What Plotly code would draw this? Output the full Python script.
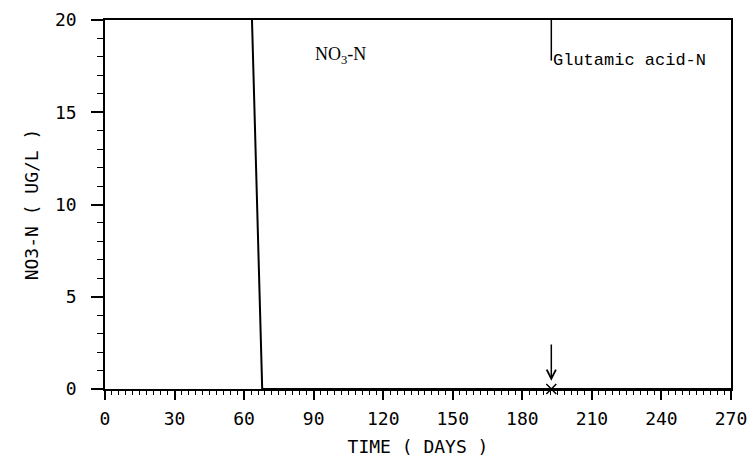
import plotly.graph_objects as go

# --- data ---
no3_days = [63.4, 67.8, 73.0, 270.0]
no3_vals = [20.0, 0.0, 0.0, 0.0]

glu_day = [192.5]
glu_val = [0.0]
glu_label_val = 17.8
arrow_tail_val = 2.5
arrow_head_val = 0.45

x_ticks = [0, 30, 60, 90, 120, 150, 180, 210, 240, 270]
y_ticks = [0, 5, 10, 15, 20]

tick_font = dict(family="DejaVu Sans Mono", size=18, color="black")

fig = go.Figure()
fig.add_trace(go.Scatter(x=no3_days, y=no3_vals, mode="lines",
                         line=dict(color="black", width=2), showlegend=False))
fig.add_trace(go.Scatter(x=glu_day, y=glu_val, mode="markers",
                         marker=dict(symbol="x-thin", size=10, line=dict(color="black", width=1.5)),
                         showlegend=False, cliponaxis=False))

# leader line from top to the label
fig.add_shape(type="line", xref="x", yref="y", x0=glu_day[0], x1=glu_day[0],
              y0=20, y1=glu_label_val, line=dict(color="black", width=1.5))
fig.add_annotation(x=glu_day[0], y=glu_label_val, xref="x", yref="y",
                   text="Glutamic acid-N", showarrow=False, xanchor="left", yanchor="middle",
                   font=dict(family="Liberation Mono", size=17, color="black"))
fig.add_annotation(x=101.5, y=18.1, xref="x", yref="y",
                   text="NO<sub>3</sub>-N", showarrow=False, xanchor="center", yanchor="middle",
                   font=dict(family="Liberation Serif", size=18, color="black"))
fig.add_annotation(x=glu_day[0], y=arrow_head_val, ax=glu_day[0], ay=arrow_tail_val,
                   xref="x", yref="y", axref="x", ayref="y", text="",
                   showarrow=True, arrowhead=5, arrowsize=1.2, arrowwidth=1.5, arrowcolor="black")

fig.update_xaxes(range=[0, 270], tickvals=x_ticks, ticktext=[str(v) for v in x_ticks],
                 showgrid=False, zeroline=False, showline=True, linecolor="black", linewidth=1.5,
                 mirror=True, ticks="outside", ticklen=9, tickwidth=1.5, tickcolor="black",
                 minor=dict(dtick=3, ticks="outside", ticklen=4, tickwidth=1.2, tickcolor="black"),
                 tickfont=tick_font, automargin=False, ticklabelstandoff=4,
                 title=dict(text="TIME ( DAYS )", font=tick_font, standoff=12))
fig.update_yaxes(range=[0, 20], tickvals=y_ticks, ticktext=[str(v) for v in y_ticks],
                 showgrid=False, zeroline=False, showline=True, linecolor="black", linewidth=1.5,
                 mirror=True, ticks="outside", ticklen=12, tickwidth=1.5, tickcolor="black",
                 minor=dict(dtick=1, ticks="outside", ticklen=6, tickwidth=1.2, tickcolor="black"),
                 tickfont=tick_font, ticklabelstandoff=11, automargin=False,
                 title=dict(text="NO3-N ( UG/L )", font=tick_font, standoff=12))

fig.update_layout(width=755, height=461, margin=dict(l=105, r=24, t=20, b=72),
                  plot_bgcolor="white", paper_bgcolor="white")
fig.write_html("out.html")
